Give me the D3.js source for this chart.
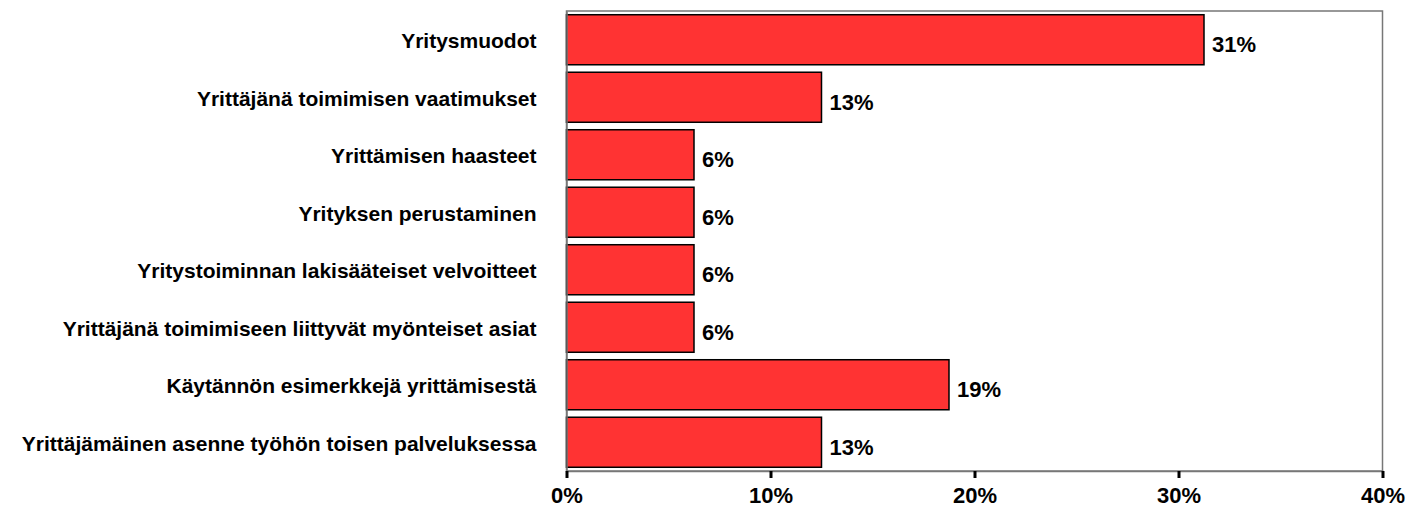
<!DOCTYPE html>
<html><head><meta charset="utf-8">
<script src="https://cdn.jsdelivr.net/npm/d3@7"></script>
<style>body{margin:0;background:#fff;}svg{display:block;font-family:"Liberation Sans",Arial,sans-serif;}</style>
</head><body>
<svg id="chart" width="1420" height="507"></svg>
<script>
const categories = [
  "Yritysmuodot",
  "Yrittäjänä toimimisen vaatimukset",
  "Yrittämisen haasteet",
  "Yrityksen perustaminen",
  "Yritystoiminnan lakisääteiset velvoitteet",
  "Yrittäjänä toimimiseen liittyvät myönteiset asiat",
  "Käytännön esimerkkejä yrittämisestä",
  "Yrittäjämäinen asenne työhön toisen palveluksessa"
];
const values = [31.25, 12.5, 6.25, 6.25, 6.25, 6.25, 18.75, 12.5];
const valueLabels = ["31%", "13%", "6%", "6%", "6%", "6%", "19%", "13%"];
const tickValues = [0, 10, 20, 30, 40];
const tickLabels = ["0%", "10%", "20%", "30%", "40%"];

const svg = d3.select("#chart");
const L = 566.5, R = 1382.5, T = 11, B = 471;

const x = d3.scaleLinear().domain([0, 40]).range([L, R]);
const y = d3.scaleBand().domain(categories).range([T, B]).paddingInner(0.13).paddingOuter(0.065);

// frame
svg.append("rect").attr("x", L).attr("y", T).attr("width", R - L).attr("height", B - T)
  .attr("fill", "none").attr("stroke", "#777").attr("stroke-width", 1.5);

// bars
svg.selectAll("rect.bar").data(values).enter().append("rect").attr("class", "bar")
  .attr("x", x(0)).attr("y", (d, i) => y(categories[i]))
  .attr("width", d => x(d) - x(0)).attr("height", y.bandwidth())
  .attr("fill", "#FF3333").attr("stroke", "#000").attr("stroke-width", 1.5);

// value labels
svg.selectAll("text.val").data(values).enter().append("text").attr("class", "val")
  .attr("x", d => x(d) + 8)
  .attr("y", (d, i) => y(categories[i]) + y.bandwidth() / 2 + 12.5)
  .attr("font-size", 22).attr("font-weight", "bold").attr("fill", "#000")
  .text((d, i) => valueLabels[i]);

// category labels (left axis)
const yAxis = d3.axisLeft(y).tickSize(0).tickPadding(30);
const gy = svg.append("g").attr("transform", `translate(${L},0)`).call(yAxis);
gy.select(".domain").attr("stroke", "#777").attr("stroke-width", 1.5);
gy.selectAll("text").attr("font-size", 21).attr("font-weight", "bold").attr("fill", "#000")
  .attr("font-family", "'Liberation Sans', Arial, sans-serif").attr("dy", "0.4em");

// x axis
const xAxis = d3.axisBottom(x).tickValues(tickValues).tickFormat((d, i) => tickLabels[i]).tickSize(7).tickPadding(9);
const gx = svg.append("g").attr("transform", `translate(0,${B})`).call(xAxis);
gx.select(".domain").attr("stroke", "#777").attr("stroke-width", 1.5);
gx.selectAll(".tick line").attr("stroke", "#000").attr("stroke-width", 3);
gx.selectAll("text").attr("font-size", 22).attr("font-weight", "bold").attr("fill", "#000")
  .attr("font-family", "'Liberation Sans', Arial, sans-serif");
</script>
</body></html>
